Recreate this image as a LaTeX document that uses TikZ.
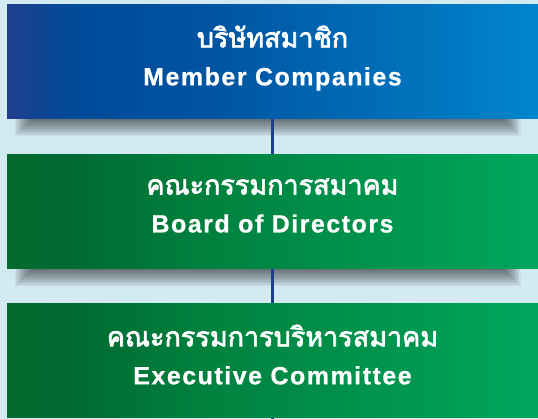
\documentclass[tikz,border=0pt]{standalone}
\usepackage{fontspec}
\setmainfont{Liberation Sans}[LetterSpace=6, BoldFeatures={FakeBold=0.6}]
\newfontfamily\thaifont[Script=Thai, AutoFakeBold=2.5]{Loma}
\usetikzlibrary{backgrounds}

\definecolor{paleblue}{HTML}{D4EAF3}
\definecolor{linkblue}{HTML}{1D3F8E}
\definecolor{blueA}{HTML}{213E8D}
\definecolor{blueB}{HTML}{004A98}
\definecolor{blueC}{HTML}{0055A2}
\definecolor{blueD}{HTML}{0085CC}
\definecolor{greenA}{HTML}{066A30}
\definecolor{greenB}{HTML}{006A31}
\definecolor{greenC}{HTML}{00833F}
\definecolor{greenD}{HTML}{00A65C}
% stops live between 25bp and 75bp, where the box is
\pgfdeclarehorizontalshading{blueshade}{100bp}{color(0bp)=(blueA); color(25bp)=(blueA); color(31bp)=(blueB); color(45bp)=(blueC); color(75bp)=(blueD); color(100bp)=(blueD)}
\pgfdeclarehorizontalshading{greenshade}{100bp}{color(0bp)=(greenA); color(25bp)=(greenA); color(31bp)=(greenB); color(45bp)=(greenC); color(75bp)=(greenD); color(100bp)=(greenD)}

\tikzset{
  block/.style={minimum width=531pt, minimum height=114pt, inner sep=0pt,
    align=center, text=white, font=\bfseries\fontsize{25}{38}\selectfont},
  blueblock/.style={block, shading=blueshade},
  greenblock/.style={block, shading=greenshade},
  link/.style={draw=linkblue, line width=3pt},
  shadowlayer/.style={fill=black, opacity=0.055}
}
\newcommand{\thline}[1]{{\thaifont\fontsize{27}{38}\selectfont #1}}
\newcommand{\enline}[1]{#1\rule[-12pt]{0pt}{12pt}}

\begin{document}
\begin{tikzpicture}[x=1pt, y=1pt]
	\useasboundingbox (0,0) rectangle (538,419);

	\node[blueblock] at (272.5, 357.5) (members) {\thline{บริษัทสมาชิก}\\\enline{Member Companies}};
	\node[greenblock] at (272.5, 207.5) (board) {\thline{คณะกรรมการสมาคม}\\\enline{Board of Directors}};
	\node[greenblock] at (272.5, 58.5) (exec) {\thline{คณะกรรมการบริหารสมาคม}\\\enline{Executive Committee}};
	\coordinate (tail) at (272.5, 0);

	\begin{scope}[on background layer]
		\fill[paleblue] (0,0) rectangle (538,419);
		% soft shadow under the two upper boxes
		\foreach \b in {members, board}
			\foreach \i in {1,...,12}
				\fill[shadowlayer] ([xshift=6.5pt+1.5pt*\i, yshift=-19pt+1.5pt*\i]\b.south west) rectangle ([xshift=-16pt-1.5pt*\i]\b.south east);
	\end{scope}

	\draw[link] (members) -- (board);
	\draw[link] (board) -- (exec);
	\draw[link] (exec) -- (tail);

\end{tikzpicture}
\end{document}
